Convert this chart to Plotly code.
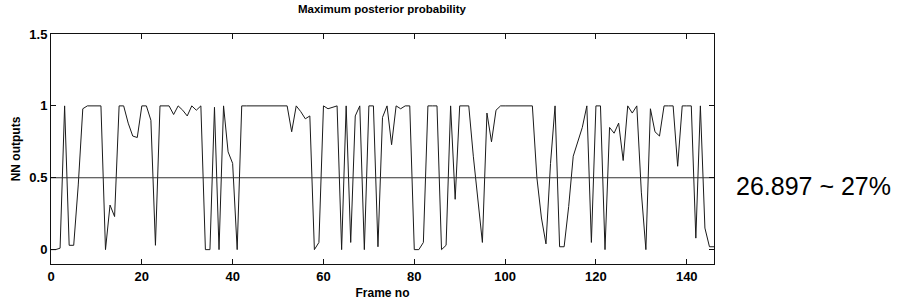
import plotly.graph_objects as go

# ---- data ----
nn_output = [
    0.0, 0.0, 0.01, 1.0, 0.03, 0.03, 0.45, 0.98, 1.0, 1.0,      # 0-9
    1.0, 1.0, 0.0, 0.31, 0.23, 1.0, 1.0, 0.88, 0.79, 0.78,      # 10-19
    1.0, 1.0, 0.9, 0.03, 1.0, 1.0, 1.0, 0.94, 1.0, 0.97,        # 20-29
    0.93, 1.0, 0.97, 1.0, 0.0, 0.0, 0.99, 0.0, 1.0, 0.68,       # 30-39
    0.6, 0.0, 1.0, 1.0, 1.0, 1.0, 1.0, 1.0, 1.0, 1.0,           # 40-49
    1.0, 1.0, 1.0, 0.82, 1.0, 0.96, 0.91, 0.93, 0.0, 0.05,      # 50-59
    1.0, 0.98, 0.99, 1.0, 0.0, 1.0, 0.05, 0.93, 1.0, 0.0,       # 60-69
    1.0, 1.0, 0.02, 0.92, 1.0, 0.73, 1.0, 0.98, 1.0, 1.0,       # 70-79
    0.0, 0.0, 0.05, 1.0, 1.0, 1.0, 0.0, 0.03, 1.0, 0.35,        # 80-89
    1.0, 1.0, 1.0, 0.65, 0.35, 0.05, 0.95, 0.75, 0.97, 1.0,     # 90-99
    1.0, 1.0, 1.0, 1.0, 1.0, 1.0, 1.0, 0.5, 0.22, 0.04,         # 100-109
    0.6, 1.0, 0.02, 0.02, 0.3, 0.65, 0.75, 0.85, 1.0, 0.05,     # 110-119
    1.0, 1.0, 0.0, 0.85, 0.81, 0.88, 0.62, 1.0, 0.95, 1.0,      # 120-129
    0.4, 0.0, 0.98, 0.82, 0.79, 1.0, 1.0, 1.0, 0.58, 1.0,       # 130-139
    1.0, 1.0, 0.08, 1.0, 0.15, 0.02, 0.02,                      # 140-146
]
frames = list(range(len(nn_output)))
threshold = 0.5
x_ticks = [0, 20, 40, 60, 80, 100, 120, 140]
y_ticks = [0, 0.5, 1, 1.5]
y_tick_labels = ["0", "0.5", "1", "1.5"]
title_text = "Maximum posterior probability"
x_title = "Frame no"
y_title = "NN outputs"
note_text = "26.897 ~ 27%"

# ---- figure ----
FONT = "Liberation Sans, Arial, sans-serif"

fig = go.Figure()
fig.add_trace(go.Scatter(
    x=frames, y=nn_output, mode="lines",
    line=dict(color="#1a1a1a", width=1),
    hoverinfo="x+y", showlegend=False,
))
fig.add_trace(go.Scatter(
    x=[0, frames[-1]], y=[threshold, threshold], mode="lines",
    line=dict(color="#333333", width=1),
    hoverinfo="skip", showlegend=False,
))

axis_common = dict(
    showline=True, linecolor="#111111", linewidth=1, mirror="ticks",
    ticks="inside", ticklen=5, tickcolor="#111111", tickwidth=1,
    showgrid=False, zeroline=False, automargin=False,
    tickfont=dict(family=FONT, size=13, color="#000000", weight="bold"),
)

fig.update_layout(
    width=900, height=303,
    margin=dict(l=51, r=186, t=34, b=39),
    paper_bgcolor="white", plot_bgcolor="white",
    title=dict(
        text="<b>" + title_text + "</b>",
        x=0.4244, xanchor="center", y=0.97, yanchor="middle",
        automargin=False,
        font=dict(family=FONT, size=11.5, color="#000000"),
    ),
    xaxis=dict(
        range=[0, 146], tickvals=x_ticks,
        title=dict(text="<b>" + x_title + "</b>", standoff=6,
                   font=dict(family=FONT, size=12, color="#000000")),
        **axis_common,
    ),
    yaxis=dict(
        range=[-0.1, 1.5], tickvals=y_ticks, ticktext=y_tick_labels,
        title=dict(text="<b>" + y_title + "</b>", standoff=6,
                   font=dict(family=FONT, size=12, color="#000000")),
        **axis_common,
    ),
    annotations=[dict(
        text=note_text, xref="paper", yref="y", x=1.03, y=0.44,
        xanchor="left", yanchor="middle", showarrow=False,
        font=dict(family="Liberation Sans, Arial, sans-serif", size=25, color="#000000"),
    )],
)

fig.write_html("out.html", config={"displayModeBar": False},
               post_script="document.body.style.margin='0';")
